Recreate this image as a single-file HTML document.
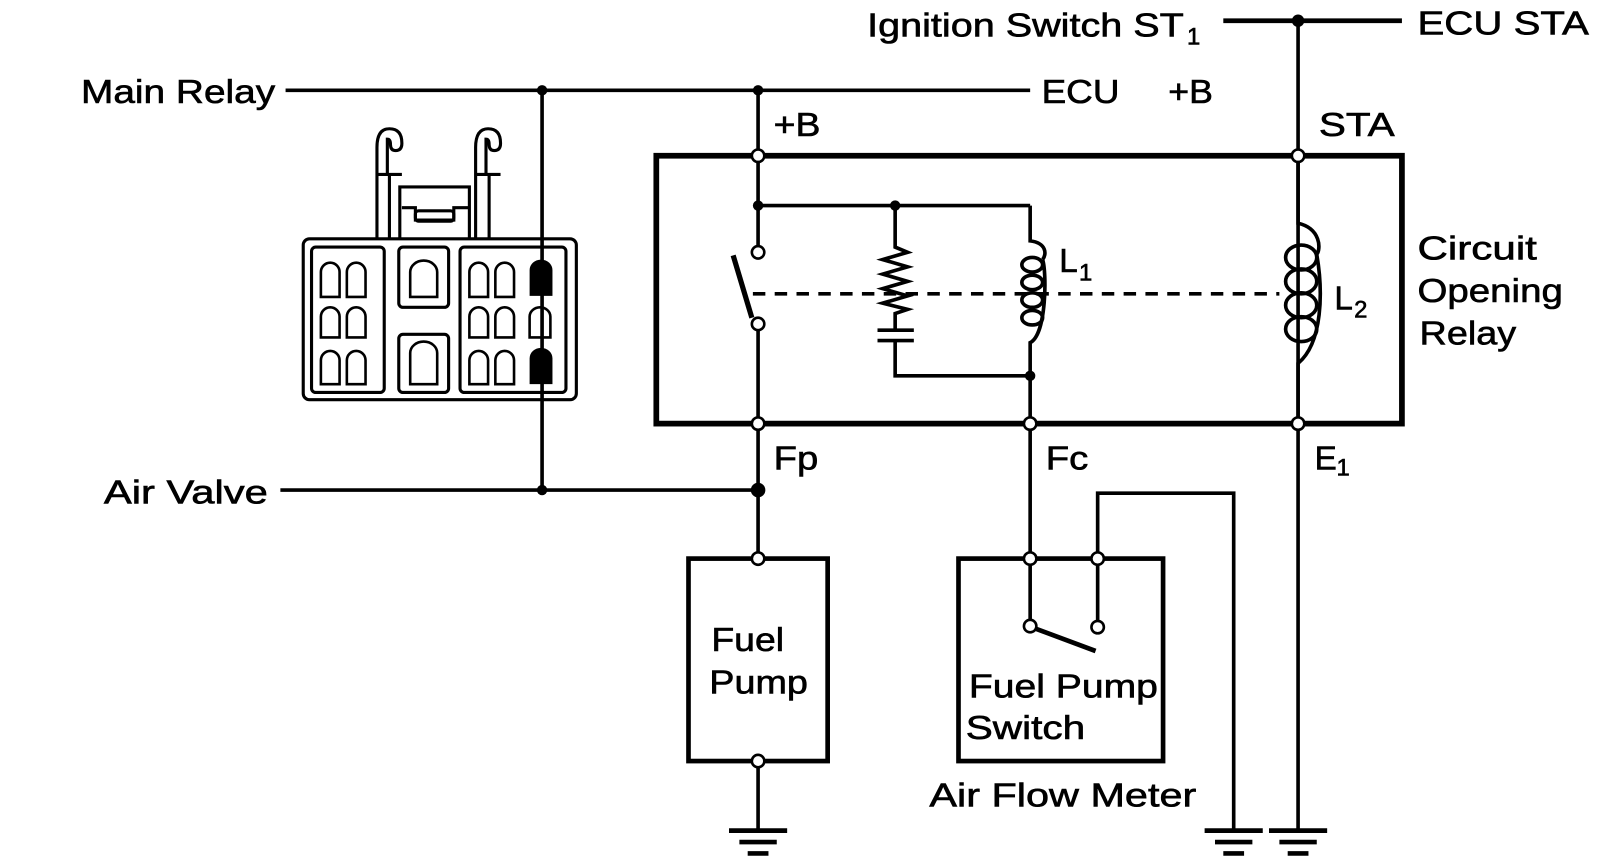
<!DOCTYPE html>
<html><head><meta charset="utf-8"><style>
html,body{margin:0;padding:0;background:#fff;}
svg{display:block;}
text{font-family:"Liberation Sans",sans-serif;fill:#000;stroke:#000;stroke-width:0.6;}
</style></head><body>
<svg width="1620" height="868" viewBox="0 0 1560 836" preserveAspectRatio="none" xmlns="http://www.w3.org/2000/svg">
<g fill="none" stroke="#000" stroke-width="3.5">
<line x1="275" y1="87" x2="992" y2="87"/>
<line x1="1178" y1="20" x2="1350" y2="20" stroke-width="4.5"/>
<line x1="1250" y1="20" x2="1250" y2="800"/>
<rect x="632" y="150" width="718" height="258" stroke-width="5.5"/>
<line x1="730" y1="87" x2="730" y2="237"/>
<line x1="730" y1="198" x2="992" y2="198"/>
<line x1="730" y1="318" x2="730" y2="532"/>
<line x1="730" y1="739" x2="730" y2="800"/>
<line x1="706" y1="246" x2="724" y2="306" stroke-width="5"/>
<line x1="725" y1="283" x2="1232" y2="283" stroke-dasharray="12,9"/>
<path d="M862 198 V238 L874 243 L850 250 L874 257 L850 264 L874 271 L850 278 L874 285 L850 292 L874 298 L862 302 V318"/>
<line x1="845" y1="318" x2="880" y2="318"/>
<line x1="845" y1="328" x2="880" y2="328"/>
<path d="M862 328 V362 H992"/>
<path d="M992 198 V232 C1008 234 1008 245 1004 250 M1004 250 C1008 262 1008 322 992 330 V532" />
<ellipse cx="994" cy="255" rx="10" ry="7"/>
<ellipse cx="994" cy="272" rx="10" ry="7"/>
<ellipse cx="994" cy="289" rx="10" ry="7"/>
<ellipse cx="994" cy="306" rx="10" ry="7"/>
<path d="M1250 150 V215 C1272 220 1272 240 1268 245 C1274 280 1274 330 1250 350 V408"/>
<ellipse cx="1253" cy="248" rx="15" ry="12"/>
<ellipse cx="1253" cy="271" rx="15" ry="12"/>
<ellipse cx="1253" cy="294" rx="15" ry="12"/>
<ellipse cx="1253" cy="317" rx="15" ry="12"/>
<line x1="270" y1="472" x2="730" y2="472"/>
<line x1="522" y1="87" x2="522" y2="472"/>
<rect x="663" y="538" width="134" height="195" stroke-width="4.5"/>
<rect x="923" y="538" width="197" height="195" stroke-width="4.5"/>
<line x1="992" y1="544" x2="992" y2="597"/>
<line x1="1057" y1="544" x2="1057" y2="598"/>
<line x1="996" y1="605" x2="1055" y2="627" stroke-width="4.5"/>
<path d="M1057 532 V475 H1188 V800"/>
<g stroke-width="4.5">
<line x1="702" y1="800" x2="758" y2="800"/><line x1="712" y1="811" x2="748" y2="811"/><line x1="720" y1="822" x2="740" y2="822"/>
<line x1="1160" y1="800" x2="1216" y2="800"/><line x1="1170" y1="811" x2="1206" y2="811"/><line x1="1178" y1="822" x2="1198" y2="822"/>
<line x1="1222" y1="800" x2="1278" y2="800"/><line x1="1232" y1="811" x2="1268" y2="811"/><line x1="1240" y1="822" x2="1260" y2="822"/>
</g>
<g stroke-width="3">
<path d="M363 230 V142 Q363 124 375 124 Q387 124 387 138 Q387 145 381 145 Q376 145 376 139 Q376 134 373 134 V168 M375 168 V230"/>
<path d="M458 230 V142 Q458 124 470 124 Q482 124 482 138 Q482 145 476 145 Q471 145 471 139 Q471 134 468 134 V168 M471 168 V230"/>
<path d="M363 168 H387 M458 168 H482"/>
<path d="M385 230 V180 H452 V230"/>
<path d="M387 200 H400 V212 H437 V200 H452"/>
<rect x="400" y="203" width="37" height="10" rx="3"/>
<rect x="292" y="230" width="263" height="155" rx="6"/>
<rect x="300" y="238" width="70" height="140" rx="4"/>
<rect x="384" y="238" width="48" height="58" rx="4"/>
<rect x="384" y="322" width="48" height="56" rx="4"/>
<rect x="443" y="238" width="102" height="140" rx="4"/>
</g>
</g>
<g fill="none" stroke="#000" stroke-width="2.5">
<path d="M309 286 V262 a9 9 0 0 1 18 0 V286 Z"/><path d="M334 286 V262 a9 9 0 0 1 18 0 V286 Z"/>
<path d="M309 325 V305 a9 9 0 0 1 18 0 V325 Z"/><path d="M334 325 V305 a9 9 0 0 1 18 0 V325 Z"/>
<path d="M309 370 V347 a9 9 0 0 1 18 0 V370 Z"/><path d="M334 370 V347 a9 9 0 0 1 18 0 V370 Z"/>
<path d="M395 286 V262 a13 11 0 0 1 26 0 V286 Z"/>
<path d="M395 370 V340 a13 11 0 0 1 26 0 V370 Z"/>
<path d="M452 286 V262 a9 9 0 0 1 18 0 V286 Z"/><path d="M477 286 V262 a9 9 0 0 1 18 0 V286 Z"/>
<path d="M452 325 V305 a9 9 0 0 1 18 0 V325 Z"/><path d="M477 325 V305 a9 9 0 0 1 18 0 V325 Z"/><path d="M510 325 V305 a10 9 0 0 1 20 0 V325 Z"/>
<path d="M452 370 V347 a9 9 0 0 1 18 0 V370 Z"/><path d="M477 370 V347 a9 9 0 0 1 18 0 V370 Z"/>
</g>
<path d="M510 285 V260 a11 10 0 0 1 22 0 V285 Z M510 370 V345 a11 10 0 0 1 22 0 V370 Z" fill="#000"/>
<g fill="#000">
<circle cx="522" cy="87" r="5"/><circle cx="730" cy="87" r="5"/><circle cx="1250" cy="20" r="6"/>
<circle cx="730" cy="198" r="5"/><circle cx="862" cy="198" r="5"/><circle cx="992" cy="362" r="5"/>
<circle cx="522" cy="472" r="5"/><circle cx="730" cy="472" r="7"/>
</g>
<g fill="#fff" stroke="#000" stroke-width="2.5">
<circle cx="730" cy="150" r="6"/><circle cx="1250" cy="150" r="6"/>
<circle cx="730" cy="408" r="6"/><circle cx="992" cy="408" r="6"/><circle cx="1250" cy="408" r="6"/>
<circle cx="730" cy="243" r="6"/><circle cx="730" cy="312" r="6"/>
<circle cx="730" cy="538" r="6"/><circle cx="730" cy="733" r="6"/>
<circle cx="992" cy="538" r="6"/><circle cx="1057" cy="538" r="6"/>
<circle cx="992" cy="603" r="6"/><circle cx="1057" cy="604" r="6"/>
</g>
<g font-size="32" lengthAdjust="spacingAndGlyphs">
<text x="78" y="99" textLength="187" lengthAdjust="spacingAndGlyphs">Main Relay</text>
<text x="1003" y="99" textLength="75" lengthAdjust="spacingAndGlyphs">ECU</text>
<text x="1125" y="99" textLength="43" lengthAdjust="spacingAndGlyphs">+B</text>
<text x="835" y="35" textLength="305" lengthAdjust="spacingAndGlyphs">Ignition Switch ST</text>
<text x="1143" y="43" font-size="23">1</text>
<text x="1365" y="33" textLength="165" lengthAdjust="spacingAndGlyphs">ECU STA</text>
<text x="745" y="131" textLength="45" lengthAdjust="spacingAndGlyphs">+B</text>
<text x="1270" y="131" textLength="73" lengthAdjust="spacingAndGlyphs">STA</text>
<text x="1020" y="262">L</text><text x="1039" y="270" font-size="23">1</text>
<text x="1285" y="298">L</text><text x="1304" y="306" font-size="23">2</text>
<text x="1365" y="250" textLength="115" lengthAdjust="spacingAndGlyphs">Circuit</text>
<text x="1365" y="291" textLength="140" lengthAdjust="spacingAndGlyphs">Opening</text>
<text x="1367" y="332" textLength="93" lengthAdjust="spacingAndGlyphs">Relay</text>
<text x="745" y="452" textLength="43" lengthAdjust="spacingAndGlyphs">Fp</text>
<text x="1007" y="452" textLength="41" lengthAdjust="spacingAndGlyphs">Fc</text>
<text x="1266" y="452">E</text><text x="1287" y="458" font-size="23">1</text>
<text x="100" y="485" textLength="158" lengthAdjust="spacingAndGlyphs">Air Valve</text>
<text x="685" y="627" textLength="70" lengthAdjust="spacingAndGlyphs">Fuel</text>
<text x="683" y="668" textLength="95" lengthAdjust="spacingAndGlyphs">Pump</text>
<text x="933" y="672" textLength="182" lengthAdjust="spacingAndGlyphs">Fuel Pump</text>
<text x="930" y="712" textLength="115" lengthAdjust="spacingAndGlyphs">Switch</text>
<text x="895" y="777" textLength="257" lengthAdjust="spacingAndGlyphs">Air Flow Meter</text>
</g>
</svg>
</body></html>
